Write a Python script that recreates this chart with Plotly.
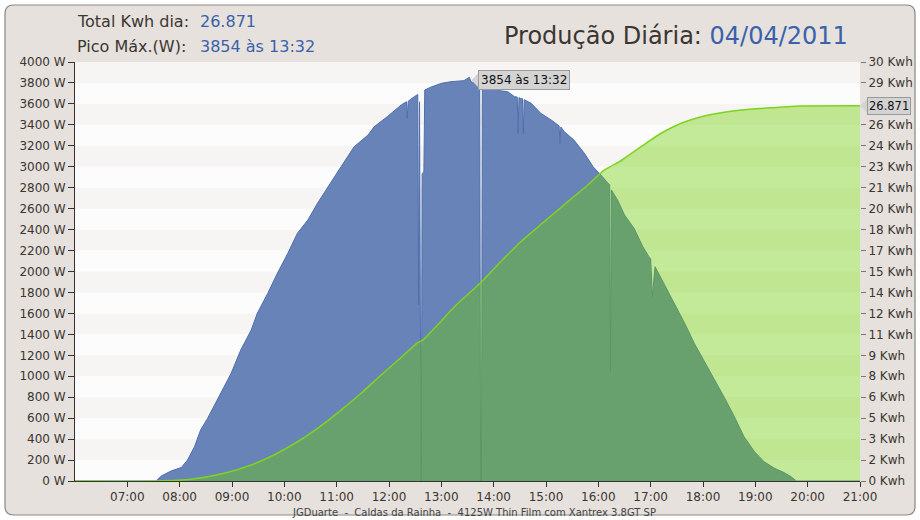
import plotly.graph_objects as go

DAY = "2011-04-04 "

# potência instantânea (W)
power_times = ["06:00", "07:33", "07:39", "07:50", "08:02", "08:09", "08:17", "08:24",
               "08:32", "08:47", "08:59", "09:10", "09:22", "09:29", "09:41", "09:52",
               "10:04", "10:15", "10:27", "10:38", "10:50", "11:05", "11:20", "11:36",
               "11:43", "11:58", "12:14", "12:20", "12:21", "12:22", "12:29", "12:33",
               "12:34", "12:35", "12:36", "12:37", "12:38", "12:40", "12:41", "12:48",
               "13:00", "13:11", "13:26", "13:32", "13:34", "13:42", "13:44", "13:45",
               "13:46", "13:47", "14:01", "14:08", "14:16", "14:24", "14:27", "14:28",
               "14:29", "14:31", "14:33", "14:34", "14:35", "14:43", "14:54", "15:06",
               "15:13", "15:15", "15:16", "15:17", "15:21", "15:32", "15:44", "15:54",
               "16:01", "16:03", "16:11", "16:13", "16:14", "16:15", "16:22", "16:30",
               "16:41", "16:51", "16:58", "17:00", "17:02", "17:05", "17:16", "17:27",
               "17:39", "17:50", "18:02", "18:13", "18:25", "18:36", "18:47", "18:59",
               "19:10", "19:22", "19:33", "19:41", "19:47", "21:00"]
power_w = [0, 0, 48, 95, 130, 200, 327, 487,
           598, 837, 1028, 1250, 1441, 1601, 1792, 1983,
           2174, 2365, 2492, 2651, 2810, 3000, 3191, 3303,
           3382, 3478, 3590, 3620, 3463, 3625, 3669, 3690,
           1680, 3620, 1470, 0, 2935, 2950, 3733, 3760,
           3796, 3812, 3822, 3854, 3812, 3790, 3785, 0,
           0, 3748, 3757, 3725, 3717, 3669, 3665, 3320,
           3660, 3650, 3650, 3315, 3640, 3606, 3510, 3446,
           3398, 3390, 3223, 3380, 3335, 3255, 3128, 3000,
           2937, 2921, 2842, 2830, 1043, 2778, 2683, 2540,
           2412, 2237, 2142, 2120, 1760, 2046, 1871, 1696,
           1506, 1315, 1139, 964, 789, 614, 423, 280,
           184, 121, 80, 41, 0, 0]

# energia acumulada (kWh)
energy_times = ["06:00", "07:33", "08:13", "08:51", "09:22", "09:48", "10:15", "10:38",
                "11:05", "11:28", "11:51", "12:14", "12:33", "12:39", "12:52", "13:15",
                "13:45", "14:08", "14:31", "14:58", "15:25", "15:48", "16:07", "16:26",
                "16:49", "17:12", "17:35", "17:58", "18:21", "18:44", "19:18", "19:52",
                "21:00"]
energy_kwh = [0, 0, 0.12, 0.55, 1.15, 1.86, 2.81, 3.77,
              5.08, 6.28, 7.59, 8.85, 9.90, 10.10, 10.93, 12.48,
              14.20, 15.70, 17.13, 18.57, 20.00, 21.19, 22.27, 22.93,
              23.94, 24.90, 25.61, 26.08, 26.37, 26.56, 26.72, 26.85,
              26.871]

total_kwh = "26.871"
peak_w = 3854
peak_time = "13:32"
date_txt = "04/04/2011"

hour_ticks = ["07:00", "08:00", "09:00", "10:00", "11:00", "12:00", "13:00", "14:00",
              "15:00", "16:00", "17:00", "18:00", "19:00", "20:00", "21:00"]
watt_ticks = [0, 200, 400, 600, 800, 1000, 1200, 1400, 1600, 1800, 2000,
              2200, 2400, 2600, 2800, 3000, 3200, 3400, 3600, 3800, 4000]
# o 27 fica tapado pela etiqueta do total
kwh_ticks = [0, 1.5, 3, 4.5, 6, 7.5, 9, 10.5, 12, 13.5, 15, 16.5, 18,
             19.5, 21, 22.5, 24, 25.5, 28.5, 30]

FONT = "DejaVu Sans"
TXT = "#3b3632"
BLUE_TXT = "#3a62ab"

fig = go.Figure()

fig.add_trace(go.Scatter(
    x=[DAY + t for t in power_times], y=power_w, mode="lines",
    line=dict(color="#4f6fad", width=1), fill="tozeroy",
    fillcolor="#6783b8", hoverinfo="skip", showlegend=False))

fig.add_trace(go.Scatter(
    x=[DAY + t for t in energy_times], y=energy_kwh, mode="lines", yaxis="y2",
    line=dict(color="#7ed321", width=1.5, shape="spline", smoothing=0.6),
    fill="tozeroy", fillcolor="rgba(110,207,0,0.40)",
    hoverinfo="skip", showlegend=False))

# moldura arredondada + faixas de fundo
shapes = []
fx0, fx1, fy0, fy1 = -0.0892, 1.0701, -0.0811, 1.136
rx, ry = 0.011, 0.021
frame = (f"M{fx0 + rx},{fy1} L{fx1 - rx},{fy1} Q{fx1},{fy1} {fx1},{fy1 - ry} "
         f"L{fx1},{fy0 + ry} Q{fx1},{fy0} {fx1 - rx},{fy0} L{fx0 + rx},{fy0} "
         f"Q{fx0},{fy0} {fx0},{fy0 + ry} L{fx0},{fy1 - ry} Q{fx0},{fy1} {fx0 + rx},{fy1} Z")
shapes.append(dict(type="path", path=frame, xref="paper", yref="paper", layer="below",
                   fillcolor="#e6e1dc", line=dict(color="#8a8784", width=1.2)))
shapes.append(dict(type="rect", xref="paper", yref="paper", x0=0, x1=1, y0=0, y1=1,
                   layer="below", fillcolor="#fcfcfd", line=dict(width=0)))
for i in range(len(watt_ticks) - 1):
    if i % 2 == 1:
        shapes.append(dict(type="rect", xref="paper", yref="y", x0=0, x1=1,
                           y0=watt_ticks[i], y1=watt_ticks[i + 1], layer="below",
                           fillcolor="#f7f5f3", line=dict(width=0)))

# setas das etiquetas
shapes.append(dict(type="path", xref="x", yref="y", xsizemode="pixel", ysizemode="pixel",
                   xanchor=DAY + peak_time, yanchor=peak_w, path="M2,-3 L9,4 L9,-10 Z",
                   fillcolor="#d3d3d3", line=dict(width=0), layer="above"))
shapes.append(dict(type="path", xref="paper", yref="y2", xsizemode="pixel", ysizemode="pixel",
                   xanchor=1, yanchor=float(total_kwh), path="M0,0 L7,7 L7,-7 Z",
                   fillcolor="#d3d3d3", line=dict(width=0), layer="above"))

annotations = [
    dict(text="Total Kwh dia:", x=0.0, y=1.0955, xanchor="left", yanchor="middle",
         font=dict(size=16, color=TXT)),
    dict(text=total_kwh, x=0.1567, y=1.0955, xanchor="left", yanchor="middle",
         font=dict(size=16, color=BLUE_TXT)),
    dict(text="Pico Máx.(W):", x=0.0, y=1.0358, xanchor="left", yanchor="middle",
         font=dict(size=16, color=TXT)),
    dict(text=f"{peak_w} às {peak_time}", x=0.1567, y=1.0358, xanchor="left",
         yanchor="middle", font=dict(size=16, color=BLUE_TXT)),
    dict(text=f"Produção Diária: <span style='color:{BLUE_TXT}'>{date_txt}</span>",
         x=0.987, y=1.062, xanchor="right", yanchor="middle",
         font=dict(size=24, color=TXT)),
    dict(text="JGDuarte  -  Caldas da Rainha  -  4125W Thin Film com Xantrex 3.8GT SP",
         x=0.508, y=-0.076, xanchor="center", yanchor="middle",
         font=dict(size=10, color="#444")),
]
for a in annotations:
    a.update(xref="paper", yref="paper", showarrow=False)

annotations.append(dict(text=f"{peak_w} às {peak_time}", xref="x", yref="y",
                        x=DAY + peak_time, y=peak_w, xanchor="left", yanchor="middle",
                        xshift=9, yshift=-3, showarrow=False, bgcolor="#d3d3d3",
                        bordercolor="#9a9a9a", borderwidth=1, borderpad=2,
                        font=dict(size=12, color="#111")))
annotations.append(dict(text=total_kwh, xref="paper", yref="y2", x=1,
                        y=float(total_kwh), xanchor="left", yanchor="middle", xshift=7,
                        showarrow=False, bgcolor="#d3d3d3", bordercolor="#9a9a9a",
                        borderwidth=1, borderpad=1, font=dict(size=11.5, color="#111")))

axis_common = dict(showgrid=False, zeroline=False, ticks="outside", ticklen=5,
                   automargin=False,
                   tickfont=dict(size=12, color=TXT, family=FONT))

fig.update_layout(
    width=920, height=520,
    margin=dict(l=75, r=60, t=62, b=39),
    paper_bgcolor="white", plot_bgcolor="#fcfcfd",
    font=dict(family=FONT, color=TXT),
    xaxis=dict(axis_common, type="date", range=[DAY + "06:00", DAY + "21:00"],
               tickvals=[DAY + h for h in hour_ticks], ticktext=hour_ticks,
               showline=True, linecolor="#333", tickcolor="#333"),
    yaxis=dict(axis_common, range=[0, 4000], tickvals=watt_ticks,
               ticktext=[f"{v} W" for v in watt_ticks], ticklen=6,
               showline=True, linecolor="#333", tickcolor="#333"),
    yaxis2=dict(axis_common, range=[0, 30], overlaying="y", side="right",
                tickvals=kwh_ticks, ticktext=[f"{int(v + 0.5)} Kwh" for v in kwh_ticks],
                showline=False, tickcolor="#777"),
    shapes=shapes,
    annotations=annotations,
    hovermode=False,
)

# sem a margem por defeito do <body>
fig.write_html("out.html", config={"displayModeBar": False},
               post_script="document.body.style.margin='0px';")
